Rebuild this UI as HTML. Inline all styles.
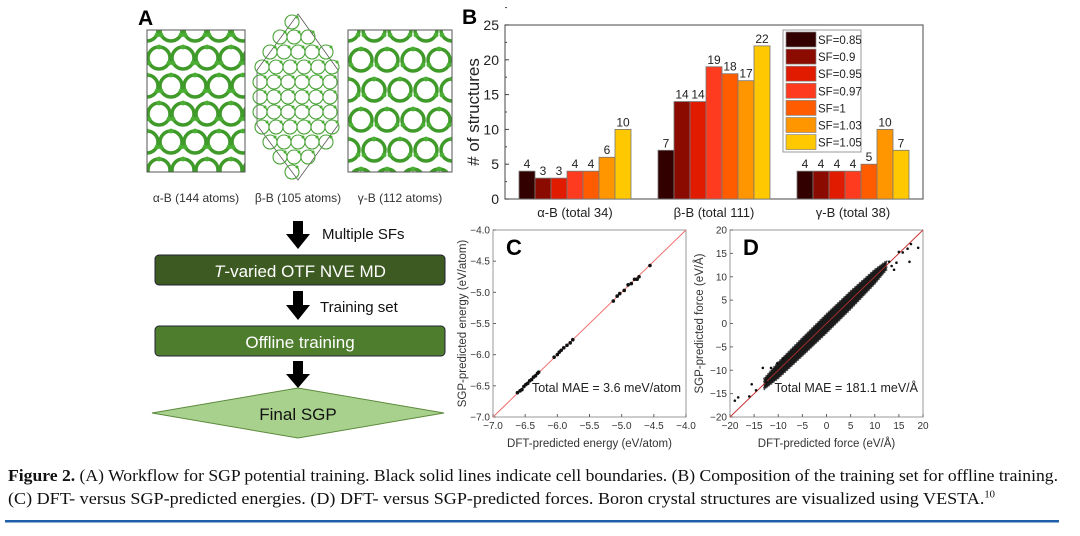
<!DOCTYPE html>
<html><head><meta charset="utf-8"><style>
body{margin:0;background:#fff;width:1080px;height:536px;overflow:hidden}
svg{display:block;font-family:"Liberation Sans",sans-serif}
.cap{position:absolute;left:8px;font-family:"Liberation Serif",serif;font-size:17px;color:#111;white-space:nowrap;transform-origin:0 0}
</style></head><body>
<svg id="fig" width="1080" height="536" viewBox="0 0 1080 536">
<defs>
<clipPath id="clipA"><rect x="147" y="30" width="98" height="142"/></clipPath>
<clipPath id="clipG"><rect x="348" y="30" width="104" height="142"/></clipPath>
</defs>
<g id="panelA">
<g id="structs"></g>
<text x="138" y="25" font-size="21" font-weight="bold">A</text>
<text x="196" y="202" font-size="12" fill="#333" text-anchor="middle">α-B (144 atoms)</text>
<text x="298" y="202" font-size="12" fill="#333" text-anchor="middle">β-B (105 atoms)</text>
<text x="400" y="202" font-size="12" fill="#333" text-anchor="middle">γ-B (112 atoms)</text>
<g><rect x="293" y="221" width="10" height="14" fill="#000"/><polygon points="286,234 310,234 298,249" fill="#000"/></g>
<text x="322" y="239" font-size="15" fill="#111">Multiple SFs</text>
<rect x="155" y="255" width="290" height="30" rx="4" fill="#3c5a21" stroke="#223" stroke-width="1"/>
<text x="300" y="277" font-size="17" fill="#fff" text-anchor="middle"><tspan font-style="italic">T</tspan>-varied OTF NVE MD</text>
<g><rect x="293" y="291" width="10" height="15" fill="#000"/><polygon points="286,305 310,305 298,320" fill="#000"/></g>
<text x="320" y="312" font-size="15" fill="#111">Training set</text>
<rect x="155" y="326" width="290" height="30" rx="4" fill="#4f7d2e" stroke="#223" stroke-width="1"/>
<text x="300" y="348" font-size="17" fill="#fff" text-anchor="middle">Offline training</text>
<g><rect x="293" y="361" width="10" height="14" fill="#000"/><polygon points="286,374 310,374 298,388" fill="#000"/></g>
<polygon points="152,413 298,388 444,413 298,438" fill="#a9d18e" stroke="#5d8a3d"/>
<text x="298" y="420" font-size="17" fill="#111" text-anchor="middle">Final SGP</text>
</g>
<g id="panelB"></g>
<g id="panelC"></g>
<g id="panelD"></g>
<rect x="5" y="520" width="1054" height="2.5" fill="#1f5faa"/>
</svg>
<div class="cap" id="cap1" style="top:466px"><b>Figure 2.</b> (A) Workflow for SGP potential training. Black solid lines indicate cell boundaries. (B) Composition of the training set for offline training.</div>
<div class="cap" id="cap2" style="top:489px">(C) DFT- versus SGP-predicted energies. (D) DFT- versus SGP-predicted forces. Boron crystal structures are visualized using VESTA.<sup style="font-size:10px">10</sup></div>
<script>
const NS="http://www.w3.org/2000/svg";
function mk(tag,attrs,parent,txt){const e=document.createElementNS(NS,tag);for(const k in attrs)e.setAttribute(k,attrs[k]);if(txt!==undefined)e.textContent=txt;parent.appendChild(e);return e;}

// caption width fitting
[['cap1',1050],['cap2',987]].forEach(([id,w])=>{const el=document.getElementById(id);const cw=el.getBoundingClientRect().width;el.style.transform='scaleX('+(w/cw)+')';});

// ---- decorative crystal structures (panel A) ----
(function(){
 const g=document.getElementById('structs');
 const boxes=[[147,30,98,142,'clipA'],[348,30,104,142,'clipG']];
 boxes.forEach((b,bi)=>{
  const s=mk('g',{},g);
  
  
  const inner=mk('g',{'clip-path':'url(#'+b[4]+')'},s);
  const cw=bi?26:24, ch=bi?30:28;
  for(let r=0;r<=Math.ceil(b[3]/ch)+1;r++)for(let c=-1;c<=Math.ceil(b[2]/cw)+1;c++){
   const cx=b[0]+c*cw+((r%2)?cw/2:0), cy=b[1]+r*ch;
   mk('circle',{cx:cx,cy:cy,r:11,fill:'none',stroke:'#3f9a2a','stroke-width':3.5},inner);
   mk('circle',{cx:cx,cy:cy-11,r:2.4,fill:'#4caf35'},inner);
   mk('circle',{cx:cx+10,cy:cy+5,r:2.4,fill:'#4caf35'},inner);
   mk('circle',{cx:cx-10,cy:cy+5,r:2.4,fill:'#4caf35'},inner);
  }
  mk('rect',{x:b[0],y:b[1],width:b[2],height:b[3],fill:'none',stroke:'#555','stroke-width':1},s);
 });
 const s=mk('g',{},g);
 
 
 mk('polygon',{points:'298,14 338,70 338,125 298,180 257,125 257,70',fill:'none',stroke:'#555','stroke-width':0.8},s);
 for(let r=0;r<11;r++){const w=[6,18,28,36,38,38,38,36,28,18,6][r];for(let c=-w;c<=w;c+=14){
   mk('circle',{cx:298+c,cy:22+r*15,r:7,fill:'none',stroke:'#4aa338','stroke-width':1.1},s);
   mk('circle',{cx:298+c+5,cy:22+r*15-5,r:1.5,fill:'#4caf35'},s);}}
})();

// ---- Panel B bar chart ----
const bCategories=["α-B (total 34)","β-B (total 111)","γ-B (total 38)"];
const bSeriesNames=["SF=0.85","SF=0.9","SF=0.95","SF=0.97","SF=1","SF=1.03","SF=1.05"];
const bAlpha=[4,3,3,4,4,6,10];
const bBeta=[7,14,14,19,18,17,22];
const bGamma=[4,4,4,4,5,10,7];
const bTicks=[0,5,10,15,20,25];
const bColors=["#330000","#8c0b00","#e11b00","#ff3b1f","#ff5c00","#ff9600","#ffc800"];
(function(){
 const g=document.getElementById('panelB');
 const L=505,R=923,T=25,B=199;
 const y=v=>B-(v/25)*(B-T);
 const centers=[575,714,853], bw=16;
 mk('text',{x:462,y:24,'font-size':21,'font-weight':'bold'},g,'B');
 mk('rect',{x:L,y:T,width:R-L,height:B-T,fill:'#fff',stroke:'#666','stroke-width':1.2},g);
 bTicks.forEach(t=>{
  mk('line',{x1:L,x2:L+4,y1:y(t),y2:y(t),stroke:'#444'},g);
  mk('line',{x1:L,x2:L+2,y1:y(t+2.5),y2:y(t+2.5),stroke:'#444'},g);
  const tl=mk('text',{x:L-6,y:y(t)+5,'font-size':14,'text-anchor':'end',fill:'#222'},g,String(t));
  
  
 });
 const yt=mk('text',{x:0,y:0,'font-size':17,'text-anchor':'middle',fill:'#222',transform:'translate(479,112) rotate(-90)'},g,'# of structures');
 
 
 [bAlpha,bBeta,bGamma].forEach((vals,gi)=>{
  const x0=centers[gi]-vals.length*bw/2;
  vals.forEach((v,i)=>{
   const r=mk('rect',{x:x0+i*bw,y:y(v),width:bw,height:B-y(v),fill:bColors[i],stroke:'#777','stroke-width':0.8},g);
   
   
   const lt=mk('text',{x:x0+i*bw+bw/2,y:y(v)-3,'font-size':12,'text-anchor':'middle',fill:'#222'},g,String(v));
   
   
  });
  const cl=mk('text',{x:centers[gi],y:217,'font-size':13,'text-anchor':'middle',fill:'#222'},g,bCategories[gi]);
  
  
 });
 const lg=mk('g',{},g);
 
 
 mk('rect',{x:783,y:30,width:78,height:122,fill:'#fff',stroke:'#999'},lg);
 bSeriesNames.forEach((n,i)=>{
  const yy=32+i*17.1;
  const e=mk('g',{},lg);
  
  
  mk('rect',{x:786,y:yy,width:30,height:15,fill:bColors[i],stroke:'#888','stroke-width':0.7},e);
  mk('text',{x:818,y:yy+12,'font-size':11.5,fill:'#222'},e,n);
 });
})();

// ---- scatter panel helper ----
function scatterFrame(g,L,R,T,B,min,max,ticks,fmt,xt,ytitle,letter,mae){
 const sx=v=>L+(v-min)/(max-min)*(R-L), sy=v=>B-(v-min)/(max-min)*(B-T);
 mk('rect',{x:L,y:T,width:R-L,height:B-T,fill:'#fff',stroke:'#999','stroke-width':1},g);
 ticks.forEach(t=>{
  mk('line',{x1:sx(t),x2:sx(t),y1:B,y2:B-3,stroke:'#666'},g);
  mk('line',{x1:L,x2:L+3,y1:sy(t),y2:sy(t),stroke:'#666'},g);
  const a=mk('text',{x:sx(t),y:B+12,'font-size':10,'text-anchor':'middle',fill:'#333'},g,fmt(t));
  
  
  const b=mk('text',{x:L-3,y:sy(t)+3.5,'font-size':10,'text-anchor':'end',fill:'#333'},g,fmt(t));
  
  
 });
 const d=mk('line',{x1:sx(min),y1:sy(min),x2:sx(max),y2:sy(max),stroke:'#f07070','stroke-width':1},g);
 
 
 const xa=mk('text',{x:(L+R)/2,y:B+30,'font-size':11.5,'text-anchor':'middle',fill:'#333'},g,xt);
 
 
 const ya=mk('text',{x:0,y:0,'font-size':11.5,'text-anchor':'middle',fill:'#333',transform:'translate('+(L-27)+','+((T+B)/2)+') rotate(-90)'},g,ytitle);
 
 
 const lt=mk('text',{x:L+13,y:T+25,'font-size':22,'font-weight':'bold'},g,letter);
 
 
 const m=mk('text',{x:R-5,y:B-25,'font-size':12.5,'text-anchor':'end',fill:'#222'},g,mae);
 
 
 return [sx,sy];
}

// ---- Panel C data ----
const cDft=[-6.62,-6.58,-6.55,-6.52,-6.49,-6.46,-6.43,-6.40,-6.37,-6.34,-6.31,-6.29,-6.05,-6.0,-5.97,-5.94,-5.9,-5.85,-5.8,-5.76,-5.13,-5.07,-5.03,-4.96,-4.9,-4.85,-4.8,-4.76,-4.73,-4.56];
const cSgp=[-6.61,-6.58,-6.56,-6.51,-6.48,-6.46,-6.42,-6.40,-6.36,-6.34,-6.30,-6.28,-6.04,-6.0,-5.96,-5.93,-5.89,-5.85,-5.81,-5.76,-5.14,-5.06,-5.02,-4.97,-4.88,-4.86,-4.79,-4.79,-4.75,-4.57];
const cTicks=[-7.0,-6.5,-6.0,-5.5,-5.0,-4.5,-4.0];
(function(){
 const g=document.getElementById('panelC');
 const [sx,sy]=scatterFrame(g,493,686,230,417,-7,-4,cTicks,t=>t.toFixed(1).replace('-','\u2212'),'DFT-predicted energy (eV/atom)','SGP-predicted energy (eV/atom)','C','Total MAE = 3.6 meV/atom');
 cDft.forEach((v,i)=>{
  const p=mk('circle',{cx:sx(v),cy:sy(cSgp[i]),r:1.8,fill:'#111'},g);
  
  
 });
})();

// ---- Panel D data ----
const dBandDft=[-13,-10,-5,0,5,10,12.5];
const dBandHalfWidth=[1.2,1.8,2,2.1,2,1.6,1];
const dDft=[-19,-18.3,-16,-15.5,-14.6,-13.2,-12.5,-11.5,-10.2,-9,13,13.5,14,15,16.8,17.5,17.2,19,14.5,15.8];
const dSgp=[-16.5,-15.8,-15.6,-13,-14.3,-9.5,-12.5,-9.5,-8.5,-7.5,13.2,12.3,11.5,15.3,16,17,13.2,16.2,13,15.2];
const dTicks=[-20,-15,-10,-5,0,5,10,15,20];
(function(){
 const g=document.getElementById('panelD');
 const [sx,sy]=scatterFrame(g,730,923,230,417,-20,20,dTicks,t=>String(t).replace('-','\u2212'),'DFT-predicted force (eV/Å)','SGP-predicted force (eV/Å)','D','Total MAE = 181.1 meV/Å');
 const top=dBandDft.map((v,i)=>sx(v)+','+sy(v+dBandHalfWidth[i]));
 const bot=dBandDft.map((v,i)=>sx(v)+','+sy(v-dBandHalfWidth[i])).reverse();
 const band=mk('polygon',{points:top.concat(bot).join(' '),fill:'#1a1a1a',stroke:'#555','stroke-width':1.5,'stroke-dasharray':'1.5 1.5'},g);
 
 
 mk('line',{x1:sx(-20),y1:sy(-20),x2:sx(20),y2:sy(20),stroke:'#c03030','stroke-width':0.8},g);
 dDft.forEach((v,i)=>{
  const p=mk('circle',{cx:sx(v),cy:sy(dSgp[i]),r:1.3,fill:'#111'},g);
  
  
 });
})();
</script>
</body></html>
